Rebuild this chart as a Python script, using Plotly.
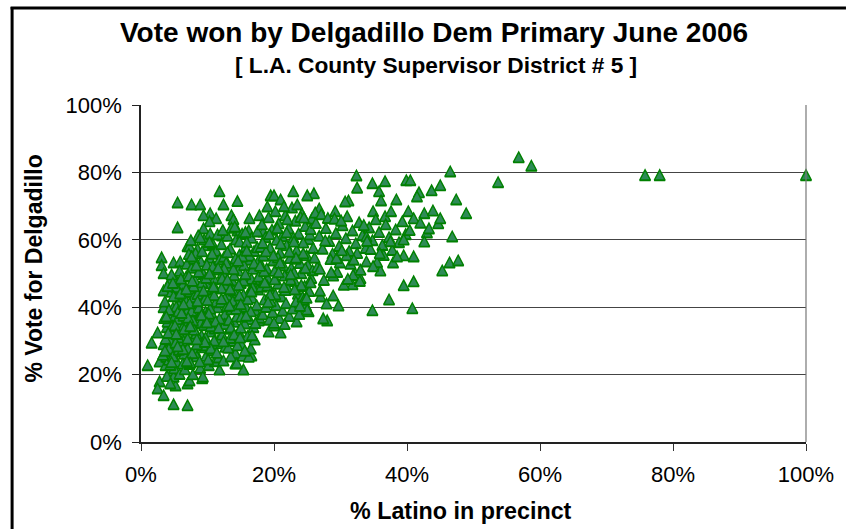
import plotly.graph_objects as go

# Hand-read points, % Latino (x) and % Delgadillo vote (y)
edge_x = [11.8,5.5,7.6,8.9,12.4,14.5,5.5,10.4,9.4,11.3,10.3,13.6,13.9,16.3,17.8,19.5,20.0,19.0,9.4,8.6,
          12.2,14.5,16.2,18.4,3.1,3.1,3.4,4.9,5.9,7.0,7.3,4.4,3.4,3.4,2.5,1.6,3.4,1.0,2.8,3.7,
          2.8,2.5,3.4,4.9,7.0,5.2,7.0,7.3,9.2,11.8,15.4,14.2,16.6,19.2,17.7]
edge_y = [73.9,70.6,70.0,70.0,70.0,71.0,63.2,67.4,66.8,65.9,65.0,66.8,65.6,65.9,66.8,72.7,72.7,69.4,62.9,60.8,
          60.8,62.3,62.3,62.0,54.3,52.0,49.6,52.8,53.1,57.6,57.6,47.5,44.5,39.5,32.0,29.0,28.5,22.3,23.4,22.3,
          17.5,15.4,13.4,10.7,10.4,16.3,16.9,17.8,18.4,21.0,21.0,22.8,25.2,32.3,35.6]

right_x = [32.4,36.7,34.8,32.5,39.9,40.5,46.5,45.0,43.7,41.8,41.5,38.4,35.8,36.1,31.2,30.7,26.0,25.0,22.9,21.0,
           26.8,29.2,31.0,34.9,36.7,37.6,40.2,41.0,42.6,43.9,47.4,48.9,44.7,45.0,43.0,46.8,42.6,41.0,39.5,37.9,
           36.0,33.9,45.3,46.4,47.7,41.0,39.5,37.3,34.8,40.8,31.8,33.0,32.2,29.7,28.9,27.0,28.0,27.4,23.4,21.0,
           20.0,25.2]
right_y = [78.6,76.9,76.3,75.0,77.2,77.2,79.8,75.7,74.2,73.6,72.4,71.5,73.9,71.2,71.2,70.9,73.3,72.7,73.9,71.5,
           68.8,68.0,66.5,68.0,66.5,68.0,68.0,65.9,67.4,68.2,71.5,67.4,64.4,65.9,61.7,60.5,59.0,54.6,54.9,52.8,
           50.4,53.1,50.4,52.8,53.4,47.2,46.0,41.8,38.6,39.2,46.3,48.1,49.6,40.0,43.0,42.7,35.6,36.2,35.3,32.0,
           34.1,38.3]

outlier_x = [53.7,56.8,58.7,75.8,78.0,100.0]
outlier_y = [76.6,84.0,81.5,78.7,78.7,78.7]

band_a_x = [3.6,4.1,4.6,5.2,5.8,6.3,6.9,3.9,4.4,5.0,
            5.5,6.1,6.7,3.8,4.3,4.9,5.4,6.0,6.6,4.0,
            4.5,5.1,5.7,6.2,6.8,3.7,4.2,4.8,5.3,5.9,
            6.4,7.0,3.5,4.0,4.7,5.6,6.5,6.9,5.0,4.2,
            5.8,6.3,3.9,4.4,5.2,6.0,6.7,4.6,5.5,6.2,
            3.3,4.8,5.7,6.4,7.0,4.1,5.3,6.6,3.6,4.9]
band_a_y = [41.2,37.5,44.1,47.8,50.3,46.2,52.4,33.6,29.7,26.4,
            42.7,38.9,35.1,24.8,20.6,18.9,23.3,27.8,31.2,35.2,
            32.4,36.9,40.1,43.5,48.6,30.1,27.2,39.3,45.5,34.2,
            29.5,43.9,36.3,45.8,34.0,30.6,25.7,38.2,21.4,23.9,
            19.7,22.8,19.1,16.9,29.0,48.0,41.6,49.2,36.0,33.3,
            25.4,25.0,26.9,37.0,27.3,31.9,39.7,21.1,26.6,42.8]

band_b_x = [7.2,7.6,8.1,8.5,9.0,9.4,9.9,10.3,10.8,11.2,
            7.4,7.9,8.3,8.8,9.2,9.7,10.1,10.6,11.0,11.5,
            7.1,7.7,8.2,8.6,9.1,9.6,10.0,10.5,10.9,11.4,
            7.3,7.8,8.4,8.9,9.3,9.8,10.2,10.7,11.1,11.6,
            7.5,8.0,8.7,9.5,10.4,11.3,7.2,7.9,8.6,9.2,
            9.9,10.6,11.3,7.6,8.3,9.0,9.7,10.4,11.1,11.7,
            7.0,7.7,8.5,9.3,10.1,10.8,11.5,7.4,8.2,8.9,
            9.6,10.3,11.0,11.8,7.8,8.4,9.1,9.8,10.5,11.2]
band_b_y = [55.3,51.2,47.6,56.8,53.1,49.4,57.9,54.2,58.3,50.7,
            44.2,40.6,37.1,45.3,41.9,38.2,46.6,43.0,47.8,39.5,
            33.5,29.9,26.2,34.8,31.1,27.6,35.9,32.3,36.7,28.8,
            22.7,19.6,24.9,21.5,18.9,25.1,22.3,26.7,23.5,29.7,
            59.4,53.9,50.0,59.6,61.4,56.2,48.8,42.5,36.3,46.9,
            52.1,44.9,41.2,38.4,31.7,35.0,30.5,39.1,33.2,24.6,
            30.2,25.9,43.4,28.2,24.0,51.6,61.1,23.1,55.6,60.2,
            42.0,58.9,29.6,53.7,35.6,28.5,37.9,48.2,27.3,45.1]

band_c_x = [12.1,12.5,13.0,13.4,13.9,14.3,14.8,15.2,15.7,16.1,
            16.6,17.0,17.5,12.3,12.8,13.2,13.7,14.1,14.6,15.0,
            15.5,15.9,16.4,16.8,17.3,17.7,12.0,12.6,13.1,13.6,
            14.0,14.5,14.9,15.4,15.8,16.3,16.7,17.2,17.6,12.2,
            12.7,13.3,13.8,14.2,14.7,15.1,15.6,16.0,16.5,16.9,
            17.4,17.8,12.4,12.9,13.5,14.4,15.3,16.2,17.1,12.1,
            13.0,13.9,14.8,15.7,16.6,17.5,12.6,13.6,14.5,15.4,
            16.3,17.2,12.3,13.2,14.1,15.0,15.9,16.8,17.7,13.8,
            14.7,15.6,16.5,12.8,14.0,15.2,16.0,17.0,13.4,14.4]
band_c_y = [58.2,54.5,60.7,56.9,52.8,59.6,55.1,61.3,57.4,53.6,
            60.1,56.2,62.0,49.7,46.1,51.2,47.5,43.8,50.4,46.7,
            52.0,48.4,44.6,50.9,47.2,53.5,41.0,37.4,42.6,38.9,
            35.2,41.7,37.9,43.2,39.6,36.0,42.3,38.6,44.8,31.4,
            27.8,33.1,29.5,25.9,32.2,28.6,34.7,30.9,27.3,33.6,
            40.1,36.4,23.7,39.8,24.9,22.9,25.1,24.8,29.9,45.2,
            55.8,44.5,59.0,61.8,47.9,57.3,34.5,63.1,28.2,47.4,
            54.8,34.8,62.4,35.7,63.4,33.4,58.8,45.4,48.6,41.3,
            46.1,26.6,38.3,52.7,49.0,54.6,41.9,52.5,30.4,36.8]

band_d_x = [18.2,18.7,19.2,19.7,20.2,20.7,21.2,21.7,22.2,22.7,
            23.2,23.7,24.2,24.7,25.2,25.7,18.4,18.9,19.4,19.9,
            20.4,20.9,21.4,21.9,22.4,22.9,23.4,23.9,24.4,24.9,
            25.4,25.9,18.1,18.6,19.1,19.6,20.1,20.6,21.1,21.6,
            22.1,22.6,23.1,23.6,24.1,24.6,25.1,25.6,18.3,18.8,
            19.3,19.8,20.3,20.8,21.3,21.8,22.3,22.8,23.3,23.8,
            24.3,24.8,25.3,18.5,19.5,20.5,21.5,22.5,23.5,24.5,
            25.5,19.0,20.0,21.0,22.0,23.0,24.0,25.0,18.0,19.3,
            20.6,21.9,23.2,24.5,25.8,18.8,20.2,21.6,23.0,24.4]
band_d_y = [64.1,60.3,66.2,62.5,68.0,64.4,60.6,66.8,62.9,69.1,
            65.2,61.4,67.3,63.6,59.7,65.8,54.8,51.0,57.2,53.4,
            59.5,55.7,51.9,57.9,54.1,60.2,56.4,52.6,58.7,54.9,
            61.1,57.1,45.6,41.8,48.0,44.2,50.3,46.5,42.7,48.9,
            45.0,51.2,47.3,43.5,49.6,45.8,52.0,48.2,37.4,39.6,
            35.8,38.0,40.1,36.3,38.5,40.7,36.9,39.1,41.2,37.5,
            42.6,40.0,44.3,50.2,41.3,63.0,69.5,47.7,70.0,41.7,
            62.7,45.9,34.9,58.4,65.6,49.8,66.3,38.8,57.4,61.2,
            54.3,61.7,53.9,66.1,50.5,56.1,43.3,34.5,59.0,55.5]

band_e_x = [26.3,26.8,27.3,27.8,28.3,28.8,29.3,29.8,30.3,30.8,
            31.3,31.8,32.3,32.8,33.3,33.8,34.3,34.8,35.3,35.8,
            36.3,36.8,37.3,37.8,38.3,38.8,39.3,39.8,26.5,27.5,
            28.5,29.5,30.5,31.5,32.5,33.5,34.5,35.5,36.5,37.5,
            38.5,39.5,26.9,27.9,28.9,29.9,30.9,31.9,32.9,33.9,
            34.9,35.9,26.2,27.1,28.1,29.1,30.1,40.4,42.0,43.3]
band_e_y = [64.5,60.7,56.9,63.0,59.2,55.4,61.5,57.7,63.8,60.0,
            56.2,62.3,58.5,64.7,60.9,57.1,63.2,59.4,65.6,61.8,
            58.0,64.1,60.3,56.5,62.6,58.8,65.0,61.2,51.4,47.6,
            53.8,50.0,46.2,52.4,55.6,63.9,56.8,52.9,55.0,59.1,
            54.6,59.6,44.4,40.6,48.9,52.8,54.9,49.1,47.3,60.5,
            51.7,55.5,67.6,67.1,66.0,65.8,65.2,62.4,64.6,62.9]

band_f_x = [4.4,5.1,5.9,6.5,7.3,8.0,8.7,9.5,10.2,11.0,
            11.8,12.6,13.5,14.3,15.1,4.8,5.6,6.3,7.1,7.9,
            8.8,9.6,10.5,11.4,12.2,13.1,14.0,14.9,15.8,16.7,
            4.2,5.3,6.1,6.9,7.7,8.5,9.4,10.3,11.2,12.1,
            13.0,13.9,14.8,15.7,16.6,3.8,4.6,5.5,6.4,7.4,
            8.3,9.2,10.0,10.9,11.7,12.5,13.4,14.2,15.0,15.9,
            6.8,7.6,8.4,9.1,9.9,10.7,11.6,12.4,13.3,14.6]
band_f_y = [22.4,34.1,43.6,33.0,40.7,32.8,39.4,34.2,37.6,43.1,
            36.1,42.1,33.5,39.0,36.7,46.7,38.3,27.1,36.4,45.8,
            23.4,29.2,33.9,26.0,48.1,27.5,31.4,30.5,37.0,31.2,
            38.7,31.6,37.8,23.5,47.3,41.3,44.4,49.5,35.3,42.0,
            47.7,50.8,43.0,49.3,44.2,36.8,23.2,27.9,40.4,33.9,
            51.9,56.1,41.6,45.6,33.4,51.0,44.9,54.0,40.4,56.3,
            44.9,54.6,30.0,37.2,35.0,55.4,51.2,29.4,40.0,53.3]

band_g_x = [17.9,18.6,19.4,20.1,20.9,21.7,22.5,23.3,24.1,24.9,
            18.3,19.1,19.9,20.7,21.5,22.3,23.1,23.9,24.7,25.5,
            26.1,26.9,27.7,28.6,29.4,30.2,31.1,32.0,33.0,34.0]
band_g_y = [51.8,46.9,43.2,47.8,52.7,44.6,49.3,54.2,46.1,42.3,
            58.6,41.0,54.9,49.9,45.5,56.0,44.8,39.9,51.1,46.9,
            54.2,50.9,59.3,49.9,54.1,56.4,47.9,53.6,50.6,59.2]

latino = edge_x + right_x + outlier_x + band_a_x + band_b_x + band_c_x + band_d_x + band_e_x + band_f_x + band_g_x
vote = edge_y + right_y + outlier_y + band_a_y + band_b_y + band_c_y + band_d_y + band_e_y + band_f_y + band_g_y

x_ticks = [0,20,40,60,80,100]
y_ticks = [0,20,40,60,80,100]
tick_labels = ["0%","20%","40%","60%","80%","100%"]

W, H = 846, 529
L, R, T, B = 140.5, 40, 105, 87
def px(v): return (v-L)/(W-L-R)
def py(v): return 1-(v-T)/(H-T-B)

fig = go.Figure(go.Scatter(x=latino, y=vote, mode="markers", cliponaxis=False,
    marker=dict(symbol="triangle-up", size=11, color="#2E8B57", line=dict(color="#008000", width=1.5))))

FONT = "Liberation Sans, Arial, sans-serif"
fig.update_layout(
    width=W, height=H, margin=dict(l=L, r=R, t=T, b=B, autoexpand=False),
    paper_bgcolor="white", plot_bgcolor="white", showlegend=False,
    font=dict(family=FONT, color="black"),
    xaxis=dict(range=[0,100], tickvals=x_ticks, ticktext=tick_labels, showgrid=False, zeroline=False,
               ticks="outside", ticklen=7, tickcolor="#333", tickwidth=1, showline=True, linecolor="#222", linewidth=1.5,
               tickfont=dict(size=22, family=FONT), ticklabelstandoff=5),
    yaxis=dict(range=[0,100], tickvals=y_ticks, ticktext=tick_labels, showgrid=True, gridcolor="#444", gridwidth=1.2, zeroline=False,
               ticks="outside", ticklen=7, tickcolor="#222", tickwidth=1, showline=True, linecolor="#222", linewidth=1.5,
               tickfont=dict(size=22, family=FONT), ticklabelstandoff=6),
    annotations=[
        dict(text="<b>Vote won by Delgadillo Dem Primary June 2006</b>", xref="paper", yref="paper",
             x=px(434), y=py(33), xanchor="center", yanchor="middle", showarrow=False, font=dict(size=28, family=FONT)),
        dict(text="<b>[ L.A. County Supervisor District # 5 ]</b>", xref="paper", yref="paper",
             x=px(436), y=py(65), xanchor="center", yanchor="middle", showarrow=False, font=dict(size=22.7, family=FONT)),
        dict(text="<b>% Latino in precinct</b>", xref="paper", yref="paper",
             x=px(460.5), y=py(511), xanchor="center", yanchor="middle", showarrow=False, font=dict(size=23.3, family=FONT)),
        dict(text="<b>% Vote for Delgadillo</b>", xref="paper", yref="paper", textangle=-90,
             x=px(33), y=py(269), xanchor="center", yanchor="middle", showarrow=False, font=dict(size=23, family=FONT)),
    ],
    shapes=[
        dict(type="line", xref="paper", yref="paper", x0=px(11.5), x1=px(11.5), y0=py(7), y1=py(529), line=dict(color="black", width=3)),
        dict(type="line", xref="paper", yref="paper", x0=px(10), x1=px(846), y0=py(8), y1=py(8), line=dict(color="black", width=3)),
        dict(type="line", xref="x domain", yref="y domain", x0=1, x1=1, y0=0, y1=1, line=dict(color="#777", width=1.2)),
    ],
)
post = """
document.body.style.margin='0';
document.querySelectorAll('.scatterlayer path.point').forEach(function(p){
  p.setAttribute('transform', p.getAttribute('transform') + ' scale(0.86,1.25)');
});
"""
fig.write_html("out.html", post_script=post, config=dict(displayModeBar=False))
